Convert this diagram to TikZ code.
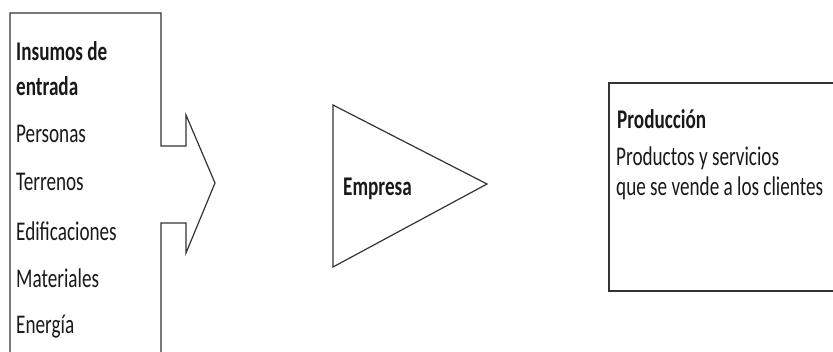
\documentclass[tikz,border=0pt]{standalone}
\usepackage{fontspec}
\setmainfont{Carlito}[FakeStretch=0.71]
\begin{document}
\begin{tikzpicture}[x=1pt,y=-1pt,
  shapeline/.style={draw=black!80, line width=1.2pt, line join=miter},
  txt/.style={anchor=base west, inner sep=0pt, font=\fontsize{27}{31}\selectfont, text=black!90},
  btxt/.style={txt, font=\fontsize{27}{31}\selectfont\bfseries}]
\useasboundingbox (0,0) rectangle (833,351);
% input box with arrow
\draw[shapeline] (10,360) -- (10,13) -- (161,13) -- (161,146) -- (186,146) -- (186,115)
  -- (215,183) -- (186,253) -- (186,223) -- (161,223) -- (161,360);
\node[btxt] (t1) at (16,60) {Insumos de};
\node[btxt] (t2) at (16,95) {entrada};
\node[txt] (t3) at (16,142) {Personas};
\node[txt] (t4) at (16,190) {Terrenos};
\node[txt] (t5) at (16,240) {Edificaciones};
\node[txt] (t6) at (16,287) {Materiales};
\node[txt] (t7) at (16,333) {Energía};
% empresa triangle
\draw[shapeline] (333,105) -- (487,184) -- (333,267) -- cycle;
\node[btxt] (emp) at (343,195) {Empresa};
% production box
\draw[shapeline] (840,83) -- (609,83) -- (609,291) -- (840,291);
\node[btxt] (p1) at (617,128) {Producción};
\node[txt] (p2) at (616,165) {Productos y servicios};
\node[txt] (p3) at (616,195) {que se vende a los clientes};
\end{tikzpicture}
\end{document}
